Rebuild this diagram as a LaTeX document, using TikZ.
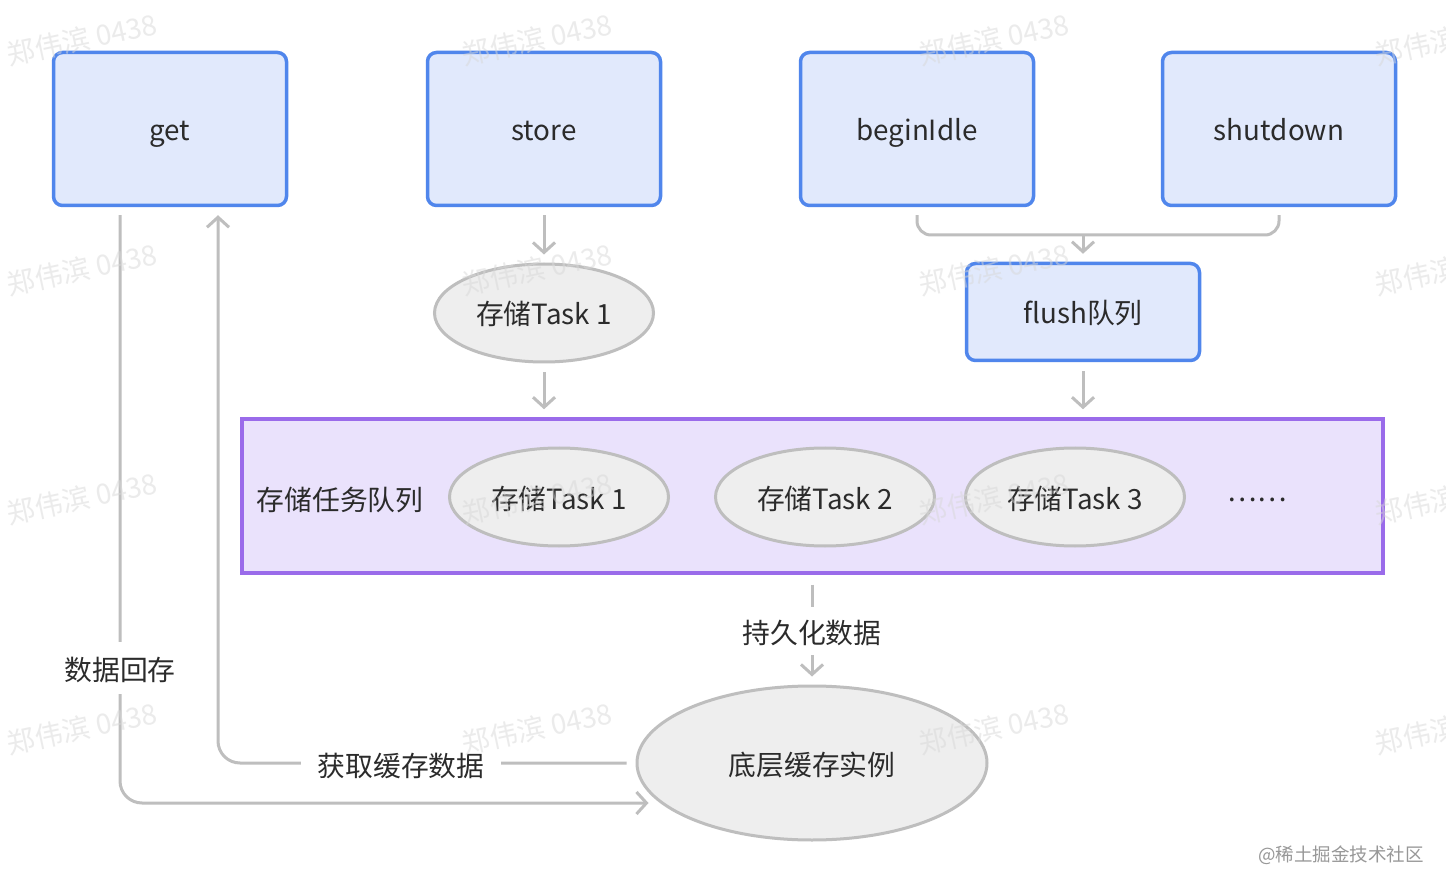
\documentclass[tikz,border=0pt]{standalone}
\usepackage{fontspec}
\setmainfont{Noto Sans CJK SC}
\usetikzlibrary{arrows.meta,shapes.geometric}
\definecolor{bluebd}{HTML}{5086EC}
\definecolor{bluefl}{HTML}{E1E9FC}
\definecolor{purbd}{HTML}{9A6BEA}
\definecolor{purfl}{HTML}{EAE2FC}
\definecolor{graybd}{HTML}{BEBEBE}
\definecolor{grayfl}{HTML}{EEEEEE}
\definecolor{txt}{HTML}{2B2B2B}
\definecolor{wm}{HTML}{D8D8D8}
\tikzset{
  every node/.style={font=\fontsize{27.8pt}{30pt}\selectfont, text=txt, text height=24pt, text depth=0pt},
  bbox/.style={draw=bluebd, fill=bluefl, line width=3.5pt, rounded corners=9pt, minimum width=233pt, minimum height=153pt, inner sep=0pt},
  fbox/.style={bbox, minimum height=97pt},
  oval/.style={ellipse, draw=graybd, fill=grayfl, line width=3pt, minimum width=219pt, minimum height=98pt, inner sep=0pt},
  conn/.style={draw=graybd, line width=3pt},
  arr/.style={conn, -{Straight Barb[length=10pt,width=22pt,line width=3pt]}},
  lab/.style={fill=white, inner sep=0pt},
  wmark/.style={font=\fontsize{28pt}{30pt}\selectfont, text=wm, opacity=0.5, rotate=12},
}
\begin{document}
\begin{tikzpicture}[x=1pt,y=-1pt]
\useasboundingbox[fill=white] (0,0) rectangle (1446,890);
% top boxes
\node[bbox] (get) at (170,129) {get};
\node[bbox] (store) at (544,129) {store};
\node[bbox] (idle) at (917,129) {beginIdle};
\node[bbox] (shut) at (1279,129) {shutdown};
\node[fbox] (flush) at (1083,312) {flush队列};
\node[oval] (t0) at (544,313) {存储Task 1};
% queue
\node[draw=purbd, fill=purfl, line width=3.5pt, minimum width=1141pt, minimum height=154pt, inner sep=0pt] (queue) at (812.5,496) {};
\node (qlab) at (340,498) {存储任务队列};
\node[oval] (t1) at (559,497) {存储Task 1};
\node[oval] (t2) at (825,497) {存储Task 2};
\node[oval] (t3) at (1075,497) {存储Task 3};
\node (dots) at (1257,489) {……};
% cache
\node[oval, minimum width=350pt, minimum height=154pt] (cache) at (812,763) {底层缓存实例};
% connectors
\draw[arr] ([yshift=-8pt]store.south) -- ([yshift=8pt]t0.north);
\draw[arr] ([yshift=-9pt]t0.south) -- ([yshift=8pt]queue.north -| t0.south);
\draw[arr] ([yshift=-9pt]flush.south) -- ([yshift=8pt]queue.north -| flush.south);
\coordinate (m) at (1083,235);
\draw[conn, rounded corners=14pt] ([yshift=-8pt]idle.south) |- (m) -| ([yshift=-8pt]shut.south);
\draw[arr] (m) -- ([yshift=8pt]flush.north);
\draw[arr] ([yshift=-10pt]queue.south -| cache.north) -- ([yshift=8pt]cache.north);
\node[lab, inner ysep=12pt, inner xsep=4pt] (persist) at (812,631) {持久化数据};
\draw[arr, rounded corners=22pt] ([xshift=-50pt,yshift=-8pt]get.south) |- ([xshift=13pt,yshift=-40pt]cache.west);
\draw[arr, rounded corners=22pt] ([xshift=-9pt]cache.west) -| ([xshift=48pt,yshift=-8pt]get.south);
\node[lab, inner xsep=4pt, inner ysep=14pt] (back) at (120,668) {数据回存};
\node[lab, inner xsep=17pt, inner ysep=4pt] (fetch) at (401,764) {获取缓存数据};
% footer
\node[font=\fontsize{18.5pt}{20pt}\selectfont, text=graybd!80!black, text height=13pt] (foot) at (1341,855) {@稀土掘金技术社区};
% watermarks
\foreach \wx in {82,537,994,1450}{
  \foreach \wy in {38,268,497,727}{
    \node[wmark] at (\wx,\wy) {郑伟滨 0438};
  }
}
\end{tikzpicture}
\end{document}
